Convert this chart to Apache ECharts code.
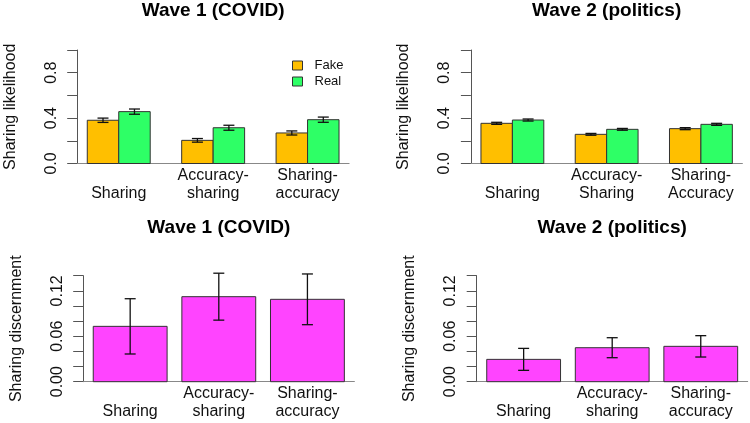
<!DOCTYPE html>
<html>
<head>
<meta charset="utf-8">
<script src="https://cdn.jsdelivr.net/npm/echarts@6/dist/echarts.min.js"></script>
<style>
html,body{margin:0;padding:0;background:#fff;}
#main{width:750px;height:423px;}
</style>
</head>
<body>
<div id="main"></div>
<script>
// ---------- data ----------
const catsWave1 = ['Sharing', 'Accuracy-\nsharing', 'Sharing-\naccuracy'];
const catsWave2Top = ['Sharing', 'Accuracy-\nSharing', 'Sharing-\nAccuracy'];
const catsWave2Bottom = ['Sharing', 'Accuracy-\nsharing', 'Sharing-\naccuracy'];

const wave1Fake = [0.381, 0.204, 0.269];
const wave1FakeErr = [0.019, 0.016, 0.018];
const wave1Real = [0.457, 0.315, 0.386];
const wave1RealErr = [0.023, 0.022, 0.023];

const wave2Fake = [0.354, 0.257, 0.307];
const wave2FakeErr = [0.009, 0.008, 0.009];
const wave2Real = [0.383, 0.301, 0.345];
const wave2RealErr = [0.009, 0.008, 0.009];

const wave1Disc = [0.0731, 0.1123, 0.1088];
const wave1DiscErr = [0.0365, 0.031, 0.0335];
const wave2Disc = [0.0295, 0.0449, 0.0467];
const wave2DiscErr = [0.0145, 0.0132, 0.0141];

const titles = ['Wave 1 (COVID)', 'Wave 2 (politics)', 'Wave 1 (COVID)', 'Wave 2 (politics)'];
const seriesNames = ['Fake', 'Real'];
const yNameTop = 'Sharing likelihood';
const yNameBottom = 'Sharing discernment';

// ---------- style ----------
const FONT = 'Liberation Sans, Arial, Helvetica, sans-serif';
const C_FAKE = '#FFBF00';
const C_REAL = '#2EFF66';
const C_DISC = '#FF44FF';
const AXIS_C = '#555';
const BASE_C = '#888';

// R-like barplot geometry (in data units on a value x axis)
// top: beside groups of 2 bars, width 1, space c(0,1)
function topBarLeft(i, k) { return 1 + 3 * i + k; }
const topCenters = [2, 5, 8];
// bottom: single bars width 1, space 0.2
function botBarLeft(i) { return 0.2 + 1.2 * i; }
const botCenters = [0.7, 1.9, 3.1];

const grids = [
  {left: 77.2, top: 50, width: 271.9, height: 113.5},
  {left: 470.9, top: 50, width: 271.5, height: 113.5},
  {left: 83.2, top: 275.7, width: 271.2, height: 106},
  {left: 476.7, top: 275.7, width: 271, height: 106}
];

function xAxisFor(gi, minV, maxV, centers, cats) {
  return {
    type: 'value', gridIndex: gi, min: minV, max: maxV,
    axisLine: {show: true, onZero: false, lineStyle: {color: BASE_C, width: 1}},
    axisTick: {show: false},
    splitLine: {show: false},
    axisLabel: {
      customValues: centers,
      margin: 3,
      fontSize: 16, lineHeight: 18, color: '#111', fontFamily: FONT,
      formatter: function (v) {
        let idx = centers.findIndex(c => Math.abs(c - v) < 1e-6);
        if (idx < 0) return '';
        let s = cats[idx];
        return s.indexOf('\n') < 0 ? '\n' + s : s;
      }
    }
  };
}

function yAxisFor(gi, maxV, interval, name, isTop) {
  return {
    type: 'value', gridIndex: gi, min: 0, max: maxV, interval: interval,
    name: name, nameLocation: 'middle', nameRotate: 90, nameGap: 59,
    nameTextStyle: {fontSize: 16, color: '#111', fontFamily: FONT},
    axisLine: {show: true, lineStyle: {color: AXIS_C, width: 1}},
    axisTick: {show: true, length: 10, lineStyle: {color: AXIS_C, width: 1}},
    splitLine: {show: false},
    axisLabel: {
      rotate: 90, margin: 18, fontSize: 16, color: '#111', fontFamily: FONT,
      formatter: function (v) {
        if (isTop) {
          const r = Math.round(v * 10);
          return r % 4 === 0 ? (r / 10).toFixed(1) : '';
        } else {
          const r = Math.round(v * 100);
          return r % 6 === 0 ? (r / 100).toFixed(2) : '';
        }
      }
    }
  };
}

function barRender(leftFn, color) {
  return function (params, api) {
    const i = api.value(0), v = api.value(1), e = api.value(2);
    const xl = leftFn(i), xr = xl + 1, xc = xl + 0.5;
    const p0 = api.coord([xl, v]);
    const p1 = api.coord([xr, 0]);
    const pt = api.coord([xc, v + e]);
    const pb = api.coord([xc, v - e]);
    const cap = 5.5;
    const es = {stroke: '#111', lineWidth: 1.3};
    return {
      type: 'group',
      children: [
        {type: 'rect', shape: {x: p0[0], y: p0[1], width: p1[0] - p0[0], height: p1[1] - p0[1]},
          style: {fill: color, stroke: '#333', lineWidth: 1}},
        {type: 'line', shape: {x1: pt[0], y1: pt[1], x2: pb[0], y2: pb[1]}, style: es},
        {type: 'line', shape: {x1: pt[0] - cap, y1: pt[1], x2: pt[0] + cap, y2: pt[1]}, style: es},
        {type: 'line', shape: {x1: pb[0] - cap, y1: pb[1], x2: pb[0] + cap, y2: pb[1]}, style: es}
      ]
    };
  };
}

function toData(vals, errs) { return vals.map((v, i) => [i, v, errs[i]]); }

function customSeries(name, gi, leftFn, color, vals, errs) {
  return {
    type: 'custom', name: name, xAxisIndex: gi, yAxisIndex: gi,
    clip: false, silent: true, animation: false,
    itemStyle: {color: color},
    encode: {x: 1, y: 1},
    renderItem: barRender(leftFn, color),
    data: toData(vals, errs)
  };
}

const titleCenters = grids.map(g => g.left + g.width / 2);
const titleTops = [1, 1, 218, 218];

const option = {
  animation: false,
  textStyle: {fontFamily: FONT},
  title: titles.map((t, k) => ({
    text: t, left: titleCenters[k], top: titleTops[k], textAlign: 'center', padding: 0,
    textStyle: {fontSize: 19, fontWeight: 'bold', color: '#000', fontFamily: FONT}
  })),
  legend: {
    orient: 'vertical', left: 292, top: 59, itemWidth: 10, itemHeight: 9, itemGap: 3,
    padding: 0,
    textStyle: {fontSize: 13, color: '#111', fontFamily: FONT, padding: [0, 0, 0, 7]},
    data: [
      {name: seriesNames[0], icon: 'rect', itemStyle: {color: C_FAKE, borderColor: '#333', borderWidth: 1}},
      {name: seriesNames[1], icon: 'rect', itemStyle: {color: C_REAL, borderColor: '#333', borderWidth: 1}}
    ]
  },
  grid: grids,
  xAxis: [
    xAxisFor(0, 0.68, 9.32, topCenters, catsWave1),
    xAxisFor(1, 0.68, 9.32, topCenters, catsWave2Top),
    xAxisFor(2, 0.064, 3.736, botCenters, catsWave1),
    xAxisFor(3, 0.064, 3.736, botCenters, catsWave2Bottom)
  ],
  yAxis: [
    yAxisFor(0, 1, 0.2, yNameTop, true),
    yAxisFor(1, 1, 0.2, yNameTop, true),
    yAxisFor(2, 0.14, 0.02, yNameBottom, false),
    yAxisFor(3, 0.14, 0.02, yNameBottom, false)
  ],
  series: [
    customSeries(seriesNames[0], 0, i => topBarLeft(i, 0), C_FAKE, wave1Fake, wave1FakeErr),
    customSeries(seriesNames[1], 0, i => topBarLeft(i, 1), C_REAL, wave1Real, wave1RealErr),
    customSeries(seriesNames[0], 1, i => topBarLeft(i, 0), C_FAKE, wave2Fake, wave2FakeErr),
    customSeries(seriesNames[1], 1, i => topBarLeft(i, 1), C_REAL, wave2Real, wave2RealErr),
    customSeries('Discernment W1', 2, i => botBarLeft(i), C_DISC, wave1Disc, wave1DiscErr),
    customSeries('Discernment W2', 3, i => botBarLeft(i), C_DISC, wave2Disc, wave2DiscErr)
  ]
};

const chart = echarts.init(document.getElementById('main'), null, {renderer: 'canvas'});
chart.setOption(option);
</script>
</body>
</html>
